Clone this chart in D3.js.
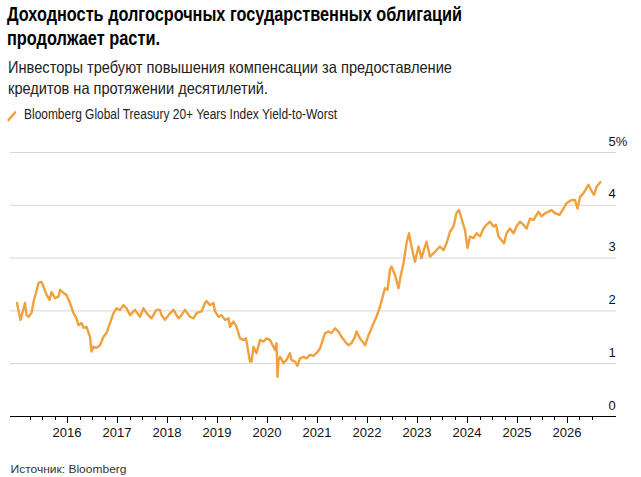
<!DOCTYPE html>
<html><head><meta charset="utf-8">
<script src="https://cdn.jsdelivr.net/npm/d3@7/dist/d3.min.js"></script>
<style>
html,body{margin:0;padding:0;background:#fff;}
svg{display:block;font-family:"Liberation Sans",Arial,Helvetica,sans-serif;}
</style></head>
<body><svg id="c" width="641" height="477"></svg>
<script>
const title = ["Доходность долгосрочных государственных облигаций", "продолжает расти."];
const subtitle = ["Инвесторы требуют повышения компенсации за предоставление", "кредитов на протяжении десятилетий."];
const seriesName = "Bloomberg Global Treasury 20+ Years Index Yield-to-Worst";
const source = "Источник: Bloomberg";
const yTicks = [0, 1, 2, 3, 4, 5];
const yTickLabels = ["0", "1", "2", "3", "4", "5%"];
const yearTicks = [2016, 2017, 2018, 2019, 2020, 2021, 2022, 2023, 2024, 2025, 2026];

// decimal year of observation
const time = [
2015.00,2015.07,2015.16,2015.19,2015.23,2015.29,2015.34,2015.38,2015.43,2015.49,
2015.53,2015.59,2015.65,2015.69,2015.76,2015.83,2015.86,2015.93,2015.99,2016.06,
2016.13,2016.19,2016.23,2016.29,2016.33,2016.39,2016.46,2016.49,2016.53,2016.59,
2016.66,2016.73,2016.79,2016.86,2016.93,2016.99,2017.06,2017.13,2017.19,2017.26,
2017.36,2017.46,2017.53,2017.59,2017.69,2017.79,2017.86,2017.89,2017.96,2018.03,
2018.13,2018.23,2018.29,2018.36,2018.46,2018.53,2018.59,2018.69,2018.76,2018.79,
2018.86,2018.93,2018.96,2019.03,2019.09,2019.16,2019.23,2019.26,2019.33,2019.39,
2019.46,2019.53,2019.58,2019.63,2019.66,2019.69,2019.73,2019.79,2019.86,2019.93,
2019.99,2020.06,2020.13,2020.16,2020.19,2020.21,2020.23,2020.26,2020.33,2020.39,
2020.46,2020.49,2020.56,2020.61,2020.66,2020.73,2020.79,2020.86,2020.93,2020.99,
2021.06,2021.16,2021.23,2021.29,2021.36,2021.43,2021.49,2021.56,2021.63,2021.69,
2021.76,2021.79,2021.86,2021.93,2021.96,2022.03,2022.09,2022.16,2022.19,2022.26,
2022.33,2022.36,2022.41,2022.46,2022.49,2022.56,2022.63,2022.67,2022.73,2022.79,
2022.84,2022.89,2022.96,2023.03,2023.09,2023.19,2023.26,2023.36,2023.46,2023.53,
2023.59,2023.66,2023.73,2023.79,2023.84,2023.89,2023.96,2024.01,2024.06,2024.13,
2024.19,2024.26,2024.33,2024.39,2024.46,2024.53,2024.58,2024.63,2024.69,2024.74,
2024.79,2024.86,2024.93,2024.99,2025.06,2025.13,2025.19,2025.26,2025.33,2025.43,
2025.49,2025.56,2025.63,2025.69,2025.76,2025.85,2025.93,2025.99,2026.09,2026.16,
2026.21,2026.26,2026.33,2026.43,2026.48,2026.54,2026.59,2026.67
];
// yield-to-worst, %
const yieldPct = [
2.14,1.82,2.14,1.91,1.88,1.95,2.20,2.33,2.52,2.54,
2.45,2.30,2.20,2.35,2.23,2.26,2.39,2.33,2.29,2.14,
1.95,1.85,1.72,1.76,1.67,1.69,1.50,1.22,1.31,1.29,
1.34,1.50,1.57,1.76,1.95,2.04,2.01,2.10,2.04,1.91,
2.01,1.88,2.04,1.95,1.85,2.01,2.01,1.91,1.82,1.91,
2.01,1.85,1.91,2.01,1.88,1.85,1.95,1.98,2.14,2.18,
2.10,2.14,1.98,1.88,1.91,1.82,1.85,1.69,1.79,1.69,
1.47,1.44,1.47,1.19,1.03,1.03,1.31,1.19,1.44,1.41,
1.47,1.44,1.31,1.25,1.38,0.74,1.06,1.12,1.00,1.06,
1.19,1.06,1.03,0.95,1.09,1.12,1.09,1.16,1.14,1.19,
1.28,1.57,1.60,1.57,1.66,1.60,1.50,1.41,1.34,1.38,
1.50,1.60,1.47,1.38,1.34,1.53,1.66,1.82,1.88,2.07,
2.32,2.42,2.39,2.77,2.83,2.67,2.42,2.64,2.89,3.27,
3.46,3.21,2.92,3.21,2.99,3.30,3.02,3.11,3.21,3.14,
3.27,3.49,3.59,3.84,3.90,3.74,3.52,3.18,3.40,3.37,
3.46,3.40,3.55,3.62,3.68,3.59,3.62,3.40,3.33,3.27,
3.46,3.55,3.46,3.59,3.68,3.62,3.55,3.74,3.71,3.87,
3.78,3.84,3.87,3.90,3.84,3.81,3.93,4.03,4.09,4.09,
3.93,4.15,4.22,4.38,4.28,4.19,4.34,4.43
];

const svg = d3.select("#c");
const x = d3.scaleLinear().domain([2014.86, 2026.98]).range([10, 616]);
const y = d3.scaleLinear().domain([0, 5]).range([416, 152]);

function fitText(sel, w) {
  sel.each(function(){
    const len = this.getComputedTextLength();
    if (len > 0) d3.select(this).attr("textLength", w).attr("lengthAdjust", "spacingAndGlyphs");
  });
}

// Title
const tl = [[21, 455], [45, 153]];
title.forEach((t, i) => {
  svg.append("text").attr("x", 7).attr("y", tl[i][0]).attr("font-size", 20).attr("font-weight", "bold")
    .attr("fill", "#000").text(t).call(fitText, tl[i][1]);
});
const sl = [[72.5, 444], [94, 260]];
subtitle.forEach((t, i) => {
  svg.append("text").attr("x", 8).attr("y", sl[i][0]).attr("font-size", 16.5)
    .attr("fill", "#222").text(t).call(fitText, sl[i][1]);
});

// Legend
svg.append("line").attr("x1", 8.5).attr("y1", 120).attr("x2", 15).attr("y2", 112.5)
  .attr("stroke", "#f0a03c").attr("stroke-width", 2.6).attr("stroke-linecap", "round");
svg.append("text").attr("x", 24).attr("y", 119.3).attr("font-size", 14).attr("fill", "#222")
  .text(seriesName).call(fitText, 313);

// Gridlines
svg.append("g").selectAll("line").data(yTicks.filter(d => d > 0)).join("line")
  .attr("x1", 10).attr("x2", 616).attr("y1", d => y(d) + 0.5).attr("y2", d => y(d) + 0.5)
  .attr("stroke", "#d6d6d6").attr("stroke-width", 1);

// Y labels
svg.append("g").selectAll("text").data(yTicks).join("text")
  .attr("x", 608.5).attr("y", d => y(d) - 6.5).attr("font-size", 13).attr("fill", "#111")
  .text((d, i) => yTickLabels[i]);

// Line
const pts = time.map((t, i) => [t, yieldPct[i]]);
svg.append("path").datum(pts)
  .attr("fill", "none").attr("stroke", "#f0a03c").attr("stroke-width", 2.4)
  .attr("stroke-linejoin", "round").attr("stroke-linecap", "round")
  .attr("d", d3.line().x(d => x(d[0])).y(d => y(d[1])));

// X axis
const quarterTicks = d3.range(2015.25, 2026.51, 0.25).filter(q => Math.abs(q - Math.round(q)) > 0.01);
const gx = svg.append("g").attr("transform", "translate(0,416.5)");
gx.append("line").attr("x1", 10).attr("x2", 616).attr("y1", 0).attr("y2", 0).attr("stroke", "#000").attr("stroke-width", 1);
gx.selectAll("line.minor").data(quarterTicks).join("line").attr("class", "minor")
  .attr("x1", d => Math.round(x(d)) + 0.5).attr("x2", d => Math.round(x(d)) + 0.5)
  .attr("y1", 0).attr("y2", 3.5).attr("stroke", "#000").attr("stroke-width", 1);
gx.selectAll("line.major").data(yearTicks).join("line").attr("class", "major")
  .attr("x1", d => Math.round(x(d)) + 0.5).attr("x2", d => Math.round(x(d)) + 0.5)
  .attr("y1", 0).attr("y2", 6.5).attr("stroke", "#000").attr("stroke-width", 1);
gx.selectAll("text").data(yearTicks).join("text")
  .attr("x", d => x(d)).attr("y", 20.5).attr("text-anchor", "middle")
  .attr("font-size", 13).attr("fill", "#111").text(d => d);

// Source
svg.append("text").attr("x", 10.5).attr("y", 472.5).attr("font-size", 11.5).attr("fill", "#333")
  .text(source).call(fitText, 116);
</script></body></html>
